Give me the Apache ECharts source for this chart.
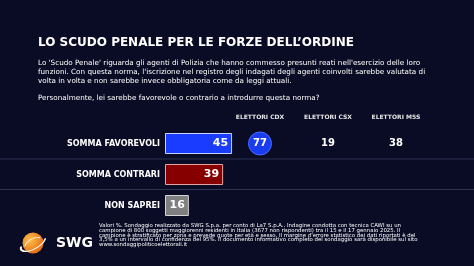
<!DOCTYPE html>
<html>
<head>
<meta charset="utf-8">
<script src="https://cdn.jsdelivr.net/npm/echarts@6/dist/echarts.min.js"></script>
<style>
  html, body { margin: 0; padding: 0; background: #0a0b24; }
  #chart { width: 474px; height: 266px; }
</style>
</head>
<body>
<div id="chart"></div>
<script>
// data
const categories = ['SOMMA FAVOREVOLI', 'SOMMA CONTRARI', 'NON SAPREI'];
const totals = [45, 39, 16];
const groups = ['ELETTORI CDX', 'ELETTORI CSX', 'ELETTORI M5S'];
const favorevoliByGroup = [77, 19, 38];

const barColors = ['#1a3cff', '#870000', '#7f7f7f'];
const barBorders = ['#c9d2ff', '#e3a3a3', '#d4d4d4'];

const titleText = 'LO SCUDO PENALE PER LE FORZE DELL\u2019ORDINE';
const introLines = [
  "Lo 'Scudo Penale' riguarda gli agenti di Polizia che hanno commesso presunti reati nell'esercizio delle loro",
  "funzioni. Con questa norma, l'iscrizione nel registro degli indagati degli agenti coinvolti sarebbe valutata di",
  "volta in volta e non sarebbe invece obbligatoria come da leggi attuali."
];
const questionText = 'Personalmente, lei sarebbe favorevole o contrario a introdurre questa norma?';
const noteLines = [
  'Valori %. Sondaggio realizzato da SWG S.p.a. per conto di La7 S.p.A.. Indagine condotta con tecnica CAWI su un',
  'campione di 800 soggetti maggiorenni residenti in Italia (3677 non rispondenti) tra il 15 e il 17 gennaio 2025. Il',
  "campione \u00e8 stratificato per zona e prevede quote per et\u00e0 e sesso. Il margine d'errore statistico dei dati riportati \u00e8 del",
  '3,5% a un intervallo di confidenza del 95%. Il documento informativo completo del sondaggio sar\u00e0 disponibile sul sito',
  'www.sondaggipoliticoelettorali.it'
];

const FONT = '"DejaVu Sans", Verdana, sans-serif';
const chart = echarts.init(document.getElementById('chart'));

// highlight the group with the highest share
const maxIdx = favorevoliByGroup.indexOf(Math.max.apply(null, favorevoliByGroup));

const graphics = [
  { type: 'text', left: 38, top: 37, style: { text: titleText, fill: '#ffffff', font: 'bold 12px ' + FONT } },
  { type: 'text', left: 38, top: 59, style: { text: introLines.join('\n'), fill: '#ffffff', font: '7.22px ' + FONT, lineHeight: 9 } },
  { type: 'text', left: 38, top: 95, style: { text: questionText, fill: '#ffffff', font: '7.22px ' + FONT } },
  // separators
  { type: 'rect', shape: { x: 0, y: 158.5, width: 474, height: 1 }, style: { fill: '#2d3352' } },
  { type: 'rect', shape: { x: 0, y: 189, width: 474, height: 1 }, style: { fill: '#2d3352' } },
  // logo
  {
    type: 'circle', shape: { cx: 33, cy: 243, r: 10.5 },
    style: {
      fill: new echarts.graphic.RadialGradient(0.35, 0.35, 0.8, [
        { offset: 0, color: '#ffc04a' }, { offset: 1, color: '#e0600c' }
      ])
    }
  },
  {
    type: 'group', x: 33, y: 243, rotation: 0.5,
    children: [
      { type: 'arc', scaleY: 0.45, shape: { cx: 0, cy: 0, r: 13.5, startAngle: 0.3, endAngle: 3.6 }, style: { stroke: '#ffffff', lineWidth: 2.2, fill: null } },
      { type: 'arc', scaleY: 0.45, shape: { cx: 0, cy: 0, r: 9, startAngle: 3.4, endAngle: 6.0 }, style: { stroke: '#ffffff', lineWidth: 1.5, fill: null } }
    ]
  },
  { type: 'text', left: 56, top: 236, style: { text: 'SWG', fill: '#ffffff', font: 'bold 14px ' + FONT } },
  { type: 'text', left: 99, top: 223.5, style: { text: noteLines.join('\n'), fill: '#ffffff', font: '5.4px ' + FONT, lineHeight: 4.6 } }
];

chart.setOption({
  backgroundColor: '#0a0b24',
  animation: false,
  graphic: graphics,
  grid: [
    { left: 165, top: 128, width: 149, height: 93 },
    { left: 226, top: 128, width: 204, height: 93 }
  ],
  xAxis: [
    { gridIndex: 0, type: 'value', min: 0, max: 100, show: false },
    {
      gridIndex: 1, type: 'category', position: 'top', data: groups,
      axisLine: { show: false }, axisTick: { show: false }, splitLine: { show: false },
      axisLabel: { color: '#e6e6e6', fontFamily: FONT, fontWeight: 'bold', fontSize: 6, margin: 8 }
    }
  ],
  yAxis: [
    {
      gridIndex: 0, type: 'category', inverse: true, data: categories,
      axisLine: { show: false }, axisTick: { show: false }, splitLine: { show: false },
      axisLabel: { color: '#ffffff', fontFamily: FONT, fontWeight: 'bold', fontSize: 8, margin: 5 }
    },
    { gridIndex: 1, type: 'category', inverse: true, data: categories, show: false }
  ],
  series: [
    {
      type: 'bar', xAxisIndex: 0, yAxisIndex: 0, barWidth: 21,
      data: totals.map((v, i) => ({
        value: v,
        itemStyle: { color: barColors[i], borderColor: barBorders[i], borderWidth: 1 }
      })),
      label: {
        show: true, position: 'insideRight', distance: 4,
        color: '#ffffff', fontFamily: FONT, fontWeight: 'bold', fontSize: 11
      }
    },
    {
      type: 'scatter', xAxisIndex: 1, yAxisIndex: 1,
      data: favorevoliByGroup.map((v, i) => ({
        value: [i, 0, v],
        symbolSize: 23,
        itemStyle: i === maxIdx
          ? { color: '#1a3cf0', borderColor: '#4d6cff', borderWidth: 1, opacity: 1 }
          : { color: 'rgba(0,0,0,0)', borderWidth: 0, opacity: 1 }
      })),
      label: {
        show: true, position: 'inside',
        formatter: p => p.value[2],
        color: '#ffffff', fontFamily: FONT, fontWeight: 'bold', fontSize: 10
      }
    }
  ]
});
</script>
</body>
</html>
